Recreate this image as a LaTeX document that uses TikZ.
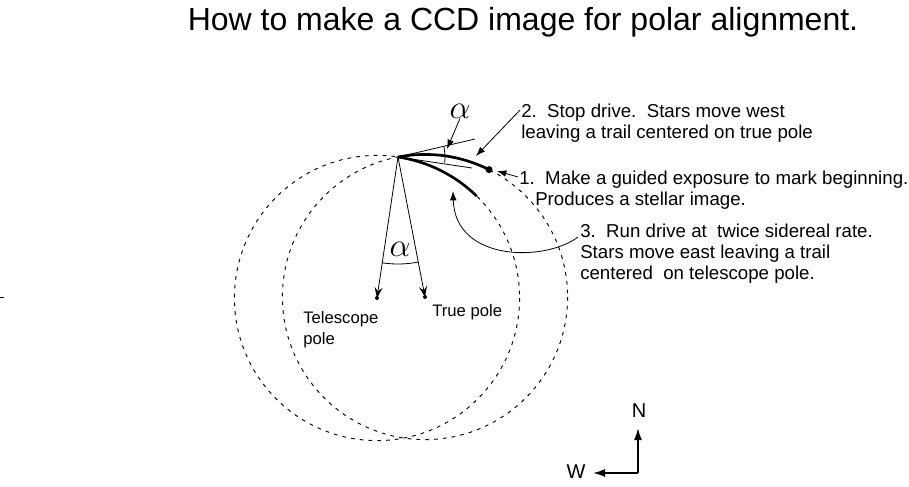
\documentclass[tikz,border=0pt]{standalone}
\usepackage{fontspec}
\setmainfont{Liberation Sans}
\usetikzlibrary{arrows.meta}

\begin{document}
\begin{tikzpicture}[x=0.75pt, y=-0.75pt,
    orbit/.style={line width=0.7pt, dash pattern=on 2.8pt off 3.8pt},
    trail/.style={line width=2pt},
    thinline/.style={line width=0.6pt},
    lead/.style={line width=0.6pt, -{Latex[length=7pt, width=5pt]}},
    note/.style={font=\fontsize{14}{15.5}\selectfont, align=left, anchor=base west, inner sep=0pt},
    small/.style={font=\fontsize{12.5}{15.75}\selectfont, align=left, anchor=base west, inner sep=0pt},
    ang/.style={font=\fontsize{24}{24}\selectfont, inner sep=0pt}
]
\useasboundingbox (0,0) rectangle (909,486);
\node[font=\fontsize{24}{24}\selectfont] (title) at (523,22) {How to make a CCD image for polar alignment.};

\coordinate (apex)  at (398,157);
\coordinate (tpole) at (377,298);
\coordinate (ppole) at (425,297);

% star circles round the two poles
\draw[orbit] (tpole) circle [radius=142.6];
\draw[orbit] (ppole) circle [radius=142.6];

% trails
\draw[trail] (apex) arc [start angle=-100.9, end angle=-63.3, radius=142.6] coordinate (star);
\draw[trail] (apex) arc [start angle=-81.5, end angle=-45.6, radius=142.6] coordinate (tend);
\fill (star) circle [radius=3.5];

% tangents and angle
\coordinate (tanp) at (475,139);
\coordinate (tant) at (472,168);
\draw[thinline] (apex) -- (tanp);
\draw[thinline] (apex) -- (tant);
\draw[thinline] (apex) ++(-13:47) arc [start angle=-13, end angle=7, radius=47];
\node[ang] (alpha1) at (460,111) {$\alpha$};
\coordinate (alphatip) at (447,149);
\draw[lead] (alpha1.south) -- (alphatip);

% radii to the poles
\draw[thinline, -{Stealth[length=8pt, width=6pt, inset=3pt]}] (apex) -- (tpole);
\draw[thinline, -{Stealth[length=8pt, width=6pt, inset=3pt]}] (apex) -- (ppole);
\fill (tpole) circle [radius=2];
\fill (ppole) circle [radius=2];
\draw[thinline] (apex) ++(79.1:107) arc [start angle=79.1, end angle=98.5, radius=107];
\node[ang] (alpha2) at (400,249) {$\alpha$};
\node[small] (tlabel) at (303,344) {Telescope\\pole};
\node[small] (plabel) at (432,316) {True pole};

% notes
\node[note] (stop)  at (521,138) {2.\ \ Stop drive.\ \ Stars move west\\leaving a trail centered on true pole};
\node[note] (begin) at (519,205) {1.\ \ Make a guided exposure to mark beginning.\\\hspace*{12pt}Produces a stellar image.};
\node[note] (run)   at (580,279) {3.\ \ Run drive at\ \ twice sidereal rate.\\Stars move east leaving a trail\\centered\ \ on telescope pole.};
\coordinate (stopin)  at (520,110);
\coordinate (stoptip) at (476,156);
\coordinate (beginin) at (518,177);
\coordinate (begintip) at (497,171);
\coordinate (runin)  at (578,237);
\coordinate (runtip) at (453,191);
\draw[lead] (stopin) -- (stoptip);
\draw[lead] (beginin) -- (begintip);
\draw[lead] (runin) .. controls (545,262) and (455,262) .. (runtip);

% compass
\coordinate (corner) at (638,473);
\coordinate (ntip) at (638,428);
\coordinate (wtip) at (593,473);
\node[font=\fontsize{15}{15}\selectfont] (north) at (639,411) {N};
\node[font=\fontsize{15}{15}\selectfont] (west)  at (576,472) {W};
\draw[line width=1.4pt, -{Latex[length=9pt, width=6pt]}] (corner) -- (ntip);
\draw[line width=1.4pt, -{Latex[length=9pt, width=6pt]}] (corner) -- (wtip);

\draw[thinline] (0,297) -- (4,297);
\end{tikzpicture}
\end{document}
